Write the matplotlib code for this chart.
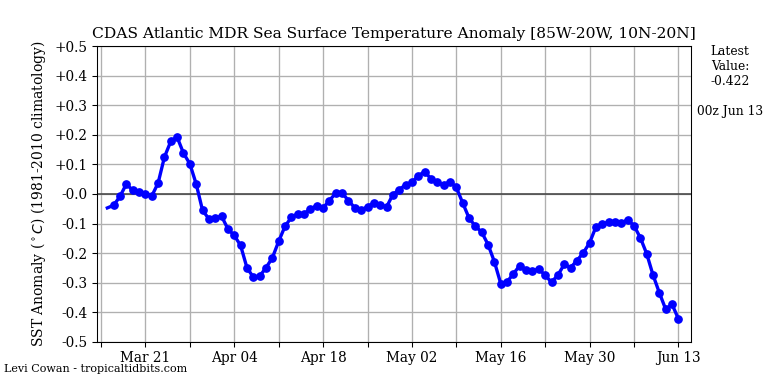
import datetime as dt
import matplotlib
matplotlib.use('Agg')
import matplotlib.pyplot as plt
import matplotlib.dates as mdates

plt.rcParams['font.family'] = 'DejaVu Serif'

# daily values, Mar 15 .. Jun 13
start = dt.date(2025, 3, 15)
anom = [
    -0.047, -0.038, -0.008, 0.034, 0.012, 0.006, 0.001, -0.007, 0.037, 0.125,
    0.178, 0.192, 0.138, 0.102, 0.034, -0.055, -0.084, -0.081, -0.075, -0.118,
    -0.140, -0.174, -0.249, -0.281, -0.278, -0.249, -0.216, -0.160, -0.109, -0.079,
    -0.067, -0.067, -0.051, -0.039, -0.047, -0.022, 0.003, 0.003, -0.022, -0.047,
    -0.054, -0.043, -0.030, -0.036, -0.044, -0.002, 0.015, 0.031, 0.039, 0.062,
    0.075, 0.052, 0.039, 0.030, 0.042, 0.022, -0.030, -0.081, -0.109, -0.129,
    -0.171, -0.229, -0.303, -0.297, -0.269, -0.242, -0.257, -0.261, -0.253, -0.275,
    -0.298, -0.274, -0.238, -0.249, -0.225, -0.199, -0.165, -0.111, -0.101, -0.096,
    -0.094, -0.098, -0.087, -0.107, -0.148, -0.202, -0.274, -0.334, -0.390, -0.373,
    -0.422,
]
dates = [start + dt.timedelta(days=i) for i in range(len(anom))]
latest = -0.422

fig = plt.figure(figsize=(8, 4), dpi=96)
ax = fig.add_axes([0.1263, 0.1094, 0.7731, 0.7708])

ax.axhline(0, color='#444444', lw=1.2, zorder=2)
ax.plot(dates, anom, color='blue', lw=2.5, marker='o', ms=5.5,
        markevery=range(1, len(anom)), zorder=3)

ax.set_ylim(-0.5, 0.5)
yt = [round(-0.5 + 0.1 * i, 1) for i in range(11)]
ax.set_yticks(yt)
ax.set_yticklabels(['%+.1f' % v if v > 0 else '-%.1f' % abs(v) for v in yt])

x0 = mdates.date2num(dt.date(2025, 3, 14))
ax.set_xlim(x0 - 0.63, x0 + 92.94)
ticks = [dt.date(2025, 3, 14) + dt.timedelta(days=7 * i) for i in range(14)]
ax.set_xticks(ticks)
ax.set_xticklabels([t.strftime('%b %d') if i % 2 else '' for i, t in enumerate(ticks)])

ax.grid(True, color='#b0b0b0', lw=1)
ax.tick_params(labelsize=10.2)
ax.set_ylabel(r'SST Anomaly ($^\circ C$) (1981-2010 climatology)', fontsize=10.4,
              labelpad=5)
ax.set_title('CDAS Atlantic MDR Sea Surface Temperature Anomaly [85W-20W, 10N-20N]',
             fontsize=11.6)

fig.text(730 / 768, 1 - 45 / 384, 'Latest\nValue:\n%.3f' % latest,
         ha='center', va='top', fontsize=9.2)
fig.text(730 / 768, 1 - 111 / 384, '00z Jun 13', ha='center', va='center', fontsize=9.2)
fig.text(4 / 768, 1 - 369 / 384, 'Levi Cowan - tropicaltidbits.com',
         ha='left', va='center', fontsize=8.3)

fig.savefig('out.png', dpi=96)
